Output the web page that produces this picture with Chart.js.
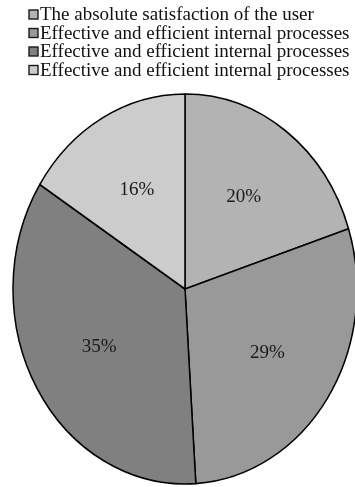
<!DOCTYPE html>
<html>
<head>
<meta charset="utf-8">
<title>User satisfaction and internal processes</title>
<script src="https://cdn.jsdelivr.net/npm/chart.js@4/dist/chart.umd.min.js"></script>
<style>
  html, body { margin: 0; padding: 0; background: #ffffff; overflow: hidden; }
  canvas { display: block; }
</style>
</head>
<body>
<canvas id="pie" width="355" height="487"></canvas>
<script>
// Categories and their shares (percent)
const categories = [
  'The absolute satisfaction of the user',
  'Effective and efficient internal processes',
  'Effective and efficient internal processes',
  'Effective and efficient internal processes'
];
const shares = [20, 29, 35, 16];
const sliceColors = ['#b3b3b3', '#999999', '#808080', '#cccccc'];

const SERIF = '"Liberation Serif", "Times New Roman", serif';
const Y_STRETCH = 195 / 172;   // the pie is drawn as a tall ellipse
const LABEL_RADIUS = 0.58;

// Stretch the pie vertically around its centre, then put the percentages on top.
const ellipsePie = {
  id: 'ellipsePie',
  beforeDatasetsDraw(chart) {
    const arc = chart.getDatasetMeta(0).data[0];
    const ctx = chart.ctx;
    ctx.save();
    ctx.translate(arc.x, arc.y);
    ctx.scale(1, Y_STRETCH);
    ctx.translate(-arc.x, -arc.y);
  },
  afterDatasetsDraw(chart) {
    const ctx = chart.ctx;
    ctx.restore();
    const meta = chart.getDatasetMeta(0);
    ctx.save();
    ctx.font = '19px ' + SERIF;
    ctx.fillStyle = '#1a1a1a';
    ctx.textAlign = 'center';
    ctx.textBaseline = 'middle';
    meta.data.forEach((arc, i) => {
      const mid = (arc.startAngle + arc.endAngle) / 2;
      const r = arc.outerRadius * LABEL_RADIUS;
      const x = arc.x + Math.cos(mid) * r;
      const y = arc.y + Math.sin(mid) * r * Y_STRETCH;
      ctx.fillText(shares[i] + '%', x, y);
    });
    ctx.restore();
  }
};

// Stacked, left-aligned legend above the pie
const stackedLegend = {
  id: 'stackedLegend',
  afterDraw(chart) {
    const ctx = chart.ctx;
    ctx.save();
    ctx.font = '19px ' + SERIF;
    ctx.textBaseline = 'alphabetic';
    ctx.textAlign = 'left';
    categories.forEach((name, i) => {
      const base = 20 + i * 18.5;
      ctx.fillStyle = sliceColors[i];
      ctx.fillRect(29, base - 10, 9, 9);
      ctx.strokeStyle = '#1a1a1a';
      ctx.lineWidth = 1.4;
      ctx.strokeRect(29, base - 10, 9, 9);
      ctx.fillStyle = '#111111';
      ctx.fillText(name, 40, base);
    });
    ctx.restore();
  }
};

new Chart(document.getElementById('pie'), {
  type: 'pie',
  data: {
    labels: categories,
    datasets: [{
      data: shares,
      backgroundColor: sliceColors,
      borderColor: '#000000',
      borderWidth: 1.5,
      clip: false
    }]
  },
  options: {
    responsive: false,
    devicePixelRatio: 1,
    animation: false,
    radius: 172,
    layout: { padding: { left: 15, right: 0, top: 91, bottom: 0 } },
    plugins: {
      legend: { display: false },
      tooltip: { enabled: false }
    },
    events: []
  },
  plugins: [ellipsePie, stackedLegend]
});
</script>
</body>
</html>
